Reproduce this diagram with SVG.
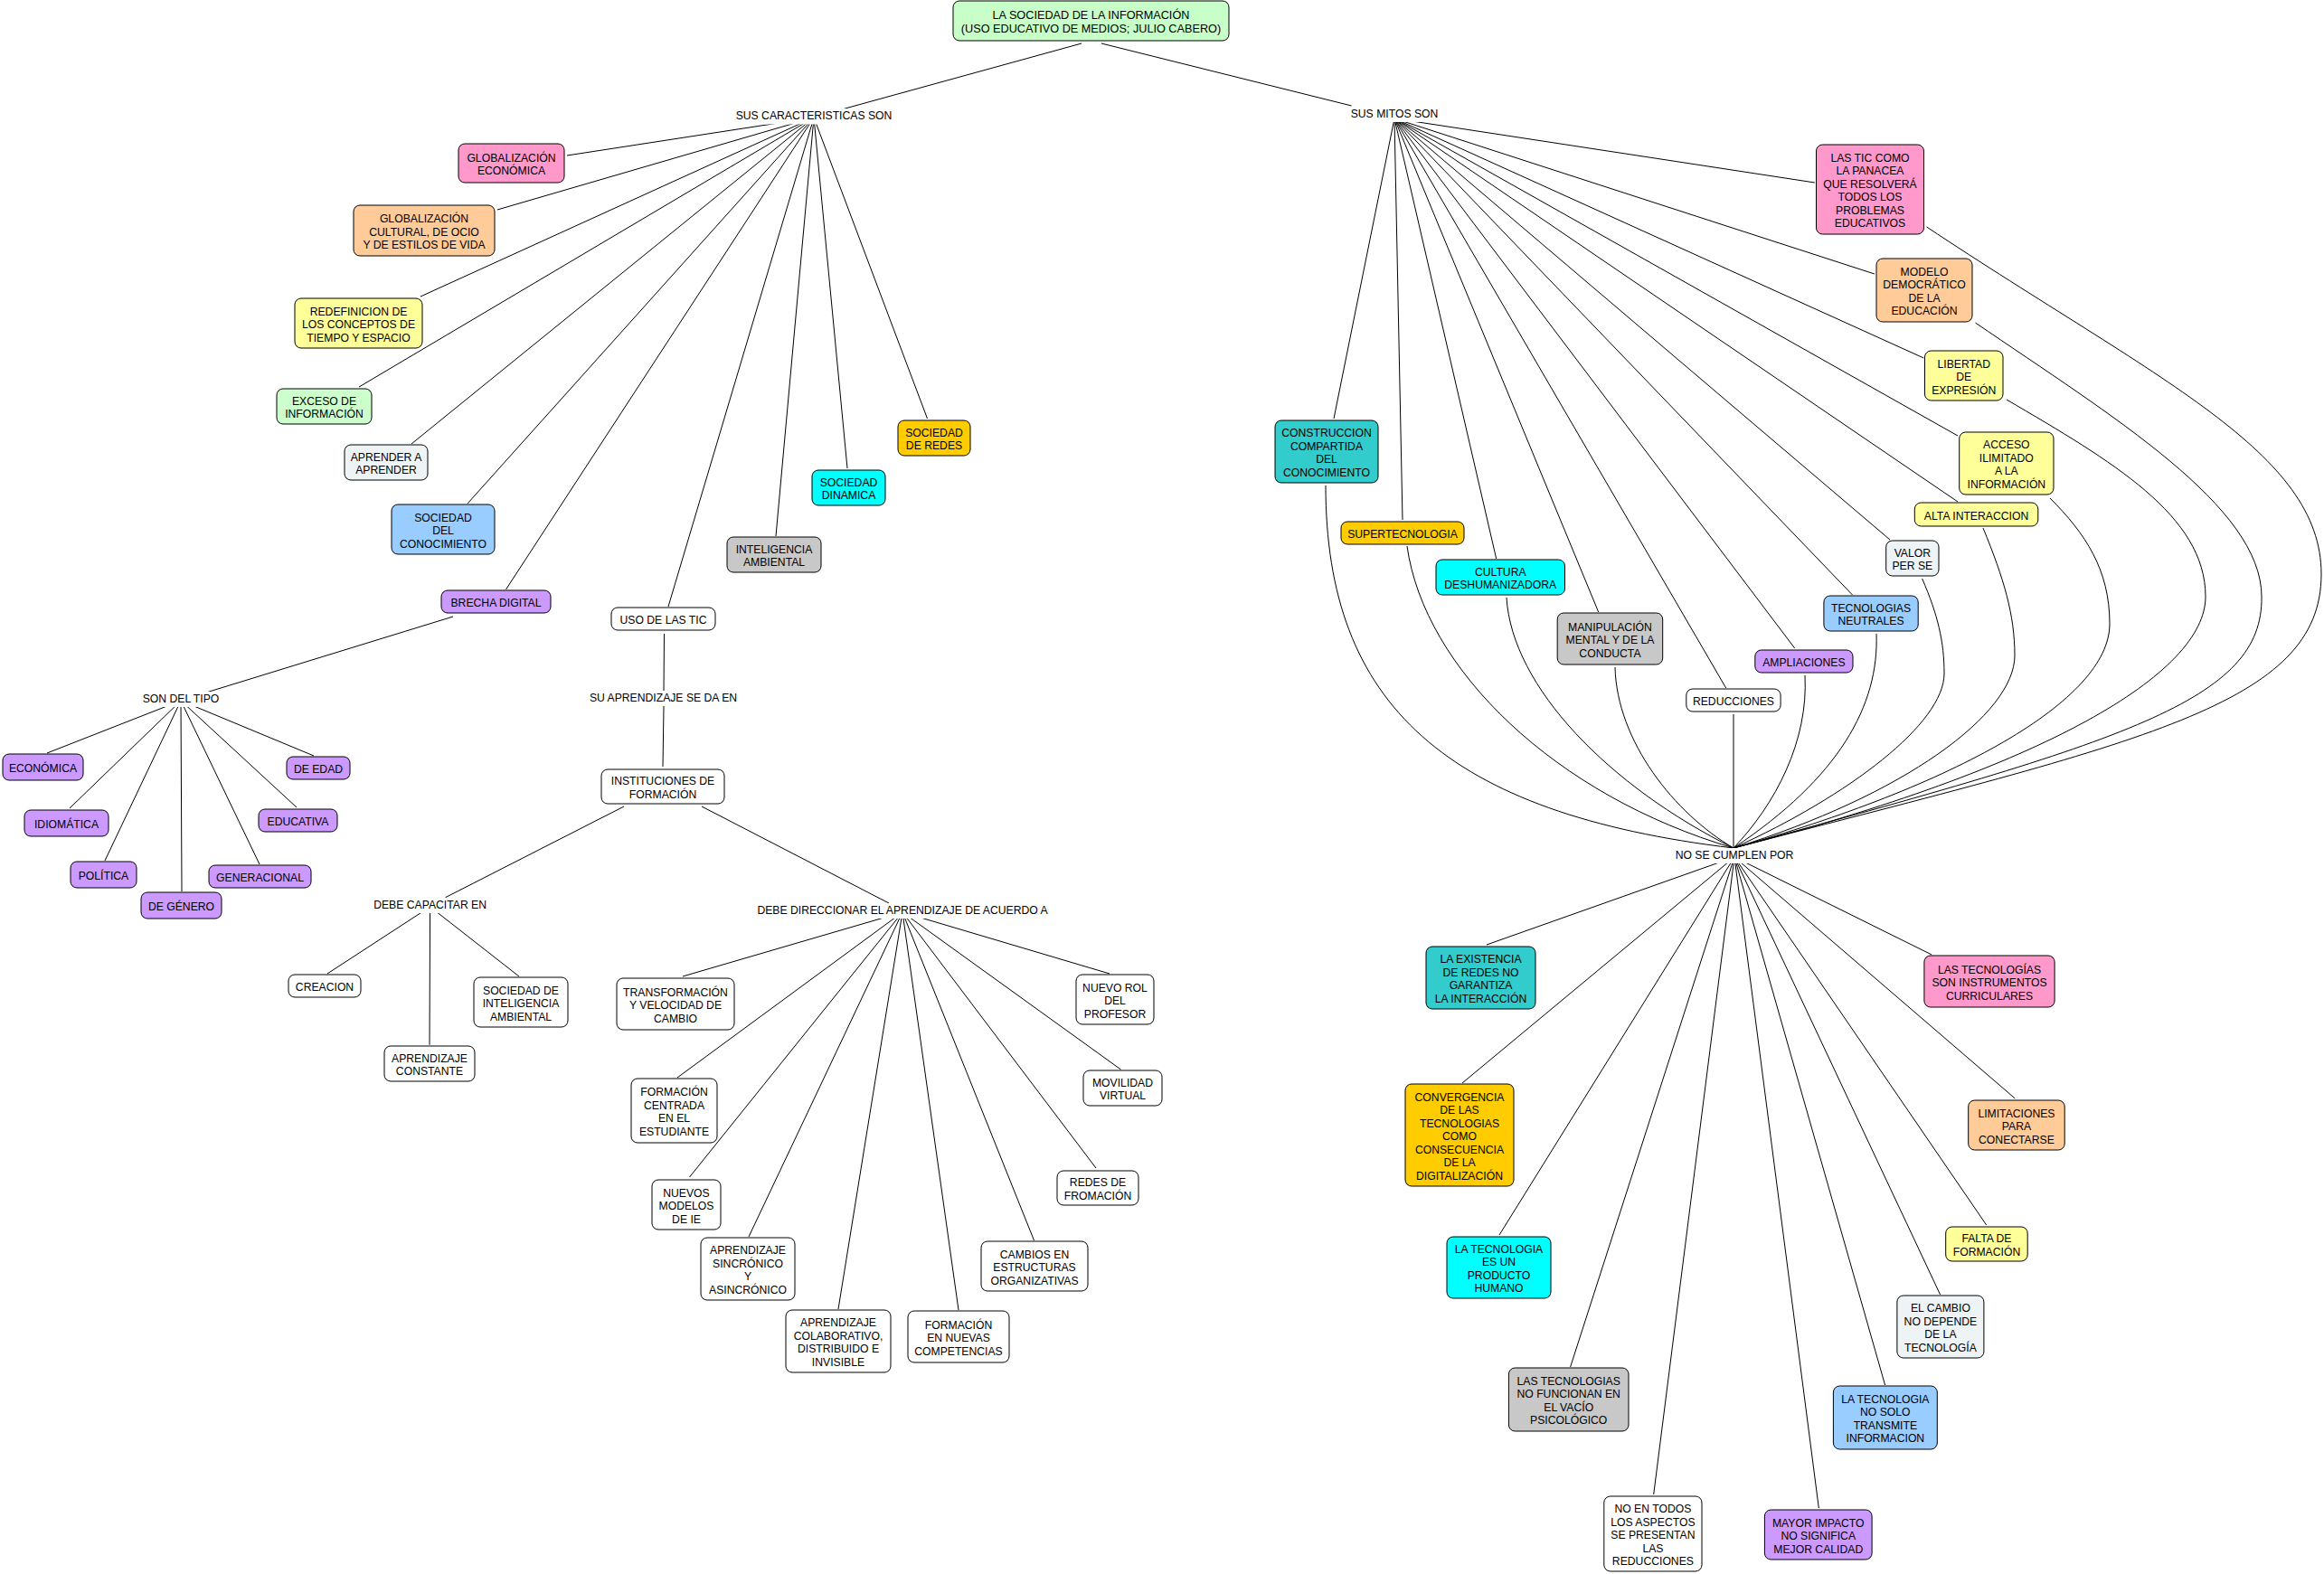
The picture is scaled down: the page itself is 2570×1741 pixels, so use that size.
<svg xmlns="http://www.w3.org/2000/svg" width="2570" height="1741" viewBox="0 0 2570 1741">
<style>
text{font-family:"Liberation Sans",Arial,sans-serif;font-size:12.2px;fill:#000;text-anchor:middle}
.root text{font-size:12.7px}
.n rect{stroke:#000;stroke-width:1}
.c line,.c path{stroke:#000;stroke-width:1;fill:none}
.lbl rect{fill:#fff;stroke:none}
.green{fill:#C8FFC8}.pink{fill:#FF99CC}.peach{fill:#FFCC99}.yellow{fill:#FFFF99}
.lgreen{fill:#CCFFCC}.def{fill:#EEF3F5}.lblue{fill:#99CCFF}.purple{fill:#CC99FF}
.white{fill:#FFFFFF}.gray{fill:#C8C8C8}.cyan{fill:#00FFFF}.gold{fill:#FFCC00}.teal{fill:#33CCCC}
</style>
<rect x="0" y="0" width="2570" height="1741" fill="#fff"/>
<g id="connectors" class="c">
<line x1="1196" y1="48" x2="931" y2="121"/>
<line x1="1218" y1="48" x2="1494.5" y2="117"/>
<line x1="900" y1="130" x2="627" y2="172"/>
<line x1="900" y1="130" x2="550" y2="232"/>
<line x1="900" y1="130" x2="465" y2="328"/>
<line x1="900" y1="130" x2="397" y2="428"/>
<line x1="900" y1="130" x2="455" y2="491"/>
<line x1="900" y1="130" x2="517" y2="557"/>
<line x1="900" y1="130" x2="559.5" y2="652"/>
<line x1="900" y1="130" x2="739" y2="671"/>
<line x1="900" y1="130" x2="858" y2="593"/>
<line x1="900" y1="130" x2="937" y2="518"/>
<line x1="900" y1="130" x2="1025.5" y2="463"/>
<line x1="501" y1="682" x2="228" y2="766"/>
<line x1="200" y1="775" x2="52" y2="833"/>
<line x1="200" y1="775" x2="77" y2="894"/>
<line x1="200" y1="775" x2="116" y2="952"/>
<line x1="200" y1="775" x2="201" y2="986"/>
<line x1="200" y1="775" x2="287" y2="956"/>
<line x1="200" y1="775" x2="328" y2="893"/>
<line x1="200" y1="775" x2="347" y2="836"/>
<line x1="734.5" y1="701" x2="734" y2="764"/>
<line x1="734" y1="781" x2="733" y2="848"/>
<line x1="690" y1="892" x2="492.6" y2="992.7"/>
<line x1="776" y1="892" x2="983" y2="999"/>
<line x1="475.6" y1="1003" x2="362" y2="1077"/>
<line x1="475.6" y1="1003" x2="475" y2="1155.7"/>
<line x1="475.6" y1="1003" x2="574" y2="1080"/>
<line x1="998" y1="1009" x2="755" y2="1080"/>
<line x1="998" y1="1009" x2="749" y2="1192"/>
<line x1="998" y1="1009" x2="762.5" y2="1302"/>
<line x1="998" y1="1009" x2="828" y2="1368"/>
<line x1="998" y1="1009" x2="927" y2="1448"/>
<line x1="998" y1="1009" x2="1060" y2="1449"/>
<line x1="998" y1="1009" x2="1143.5" y2="1372"/>
<line x1="998" y1="1009" x2="1212" y2="1292"/>
<line x1="998" y1="1009" x2="1239.5" y2="1183"/>
<line x1="998" y1="1009" x2="1227" y2="1077"/>
<line x1="1542" y1="131" x2="2006.9" y2="202"/>
<line x1="1542" y1="131" x2="2072.9" y2="303"/>
<line x1="1542" y1="131" x2="2127.3" y2="396"/>
<line x1="1542" y1="131" x2="2165" y2="482"/>
<line x1="1542" y1="131" x2="2165" y2="555"/>
<line x1="1542" y1="131" x2="2090" y2="597"/>
<line x1="1542" y1="131" x2="2048.5" y2="658"/>
<line x1="1542" y1="131" x2="1984.7" y2="717"/>
<line x1="1542" y1="131" x2="1908.7" y2="761"/>
<line x1="1542" y1="131" x2="1767.7" y2="677"/>
<line x1="1542" y1="131" x2="1654.7" y2="618"/>
<line x1="1542" y1="131" x2="1551" y2="575"/>
<line x1="1542" y1="131" x2="1475" y2="463"/>
<path d="M2130.6,251 C2385,420 2567,500 2567,635 C2567,780 2370,820 1917,938"/>
<path d="M2184.5,357 C2335,460 2501,560 2501,660 C2503,775 2350,820 1917,938"/>
<path d="M2219,442 C2335,510 2439,570 2439,660 C2439,745 2260,850 1917,938"/>
<path d="M2267,551 C2306,590 2333,630 2333,690 C2333,775 2160,870 1917,938"/>
<path d="M2193,584 C2216,640 2228,680 2228,725 C2228,790 2105,880 1917,938"/>
<path d="M2125.6,640 C2143,680 2150,710 2150,745 C2150,800 2045,880 1917,938"/>
<path d="M2075,701 C2078,780 2034,860 1917,938"/>
<path d="M1996,747 C2000,820 1963,890 1917,938"/>
<path d="M1917,790 L1917,938"/>
<path d="M1786,738 C1788,820 1852,900 1917,938"/>
<path d="M1666,661 C1672,760 1780,870 1917,938"/>
<path d="M1556,604 C1575,740 1720,880 1917,938"/>
<path d="M1466,537 C1466,780 1600,900 1917,938"/>
<line x1="1918" y1="948" x2="1644" y2="1045"/>
<line x1="1918" y1="948" x2="1617" y2="1198"/>
<line x1="1918" y1="948" x2="1658" y2="1366"/>
<line x1="1918" y1="948" x2="1736.6" y2="1512"/>
<line x1="1918" y1="948" x2="1828.7" y2="1653"/>
<line x1="1918" y1="948" x2="2011.3" y2="1668"/>
<line x1="1918" y1="948" x2="2084.6" y2="1532"/>
<line x1="1918" y1="948" x2="2145.6" y2="1432"/>
<line x1="1918" y1="948" x2="2196.7" y2="1355"/>
<line x1="1918" y1="948" x2="2228.3" y2="1215"/>
<line x1="1918" y1="948" x2="2136.2" y2="1056"/>
</g>
<g id="labels" class="lbl">
<g id="l_car"><rect x="810" y="120" width="180" height="17.5"/><text x="900" y="132.4">SUS CARACTERISTICAS SON</text></g>
<g id="l_mitos"><rect x="1489" y="118" width="106" height="17"/><text x="1542" y="130.4">SUS MITOS SON</text></g>
<g id="l_tipo"><rect x="153" y="765" width="94" height="17"/><text x="200" y="777.4">SON DEL TIPO</text></g>
<g id="l_apr"><rect x="648" y="764" width="171" height="17"/><text x="733.5" y="776.4">SU APRENDIZAJE SE DA EN</text></g>
<g id="l_cap"><rect x="410" y="993" width="131" height="17"/><text x="475.6" y="1005.4">DEBE CAPACITAR EN</text></g>
<g id="l_dir"><rect x="832" y="999" width="332" height="17"/><text x="998" y="1011.4">DEBE DIRECCIONAR EL APRENDIZAJE DE ACUERDO A</text></g>
<g id="l_cumplen"><rect x="1853" y="938" width="131" height="17"/><text x="1918" y="950.4">NO SE CUMPLEN POR</text></g>
</g>
<g id="nodes" class="n">
<g id="root" class="root"><rect class="green" x="1054" y="1" width="305" height="44" rx="7"/><text x="1206.5" y="20.5">LA SOCIEDAD DE LA INFORMACIÓN</text><text x="1206.5" y="36.3">(USO EDUCATIVO DE MEDIOS; JULIO CABERO)</text></g>
<g id="n_glob_econ"><rect class="pink" x="507" y="159" width="117" height="43" rx="7"/><text x="565.5" y="178.75">GLOBALIZACIÓN</text><text x="565.5" y="193.25">ECONÓMICA</text></g>
<g id="n_glob_cult"><rect class="peach" x="391" y="227" width="156" height="56" rx="7"/><text x="469" y="246">GLOBALIZACIÓN</text><text x="469" y="260.5">CULTURAL, DE OCIO</text><text x="469" y="275">Y DE ESTILOS DE VIDA</text></g>
<g id="n_redef"><rect class="yellow" x="326" y="330" width="141" height="55" rx="7"/><text x="396.5" y="348.5">REDEFINICION DE</text><text x="396.5" y="363">LOS CONCEPTOS DE</text><text x="396.5" y="377.5">TIEMPO Y ESPACIO</text></g>
<g id="n_exceso"><rect class="lgreen" x="306" y="430" width="105" height="39" rx="7"/><text x="358.5" y="447.75">EXCESO DE</text><text x="358.5" y="462.25">INFORMACIÓN</text></g>
<g id="n_aprender"><rect class="def" x="381" y="492" width="92" height="39" rx="7"/><text x="427" y="509.75">APRENDER A</text><text x="427" y="524.25">APRENDER</text></g>
<g id="n_soc_con"><rect class="lblue" x="433" y="558" width="114" height="55" rx="7"/><text x="490" y="576.5">SOCIEDAD</text><text x="490" y="591">DEL</text><text x="490" y="605.5">CONOCIMIENTO</text></g>
<g id="n_brecha"><rect class="purple" x="488" y="653" width="121" height="25" rx="7"/><text x="548.5" y="671">BRECHA DIGITAL</text></g>
<g id="n_uso"><rect class="white" x="676" y="672" width="115" height="25" rx="7"/><text x="733.5" y="690">USO DE LAS TIC</text></g>
<g id="n_intel"><rect class="gray" x="804" y="594" width="104" height="39" rx="7"/><text x="856" y="611.75">INTELIGENCIA</text><text x="856" y="626.25">AMBIENTAL</text></g>
<g id="n_soc_din"><rect class="cyan" x="898" y="520" width="81" height="39" rx="7"/><text x="938.5" y="537.75">SOCIEDAD</text><text x="938.5" y="552.25">DINAMICA</text></g>
<g id="n_soc_redes"><rect class="gold" x="993" y="465" width="80" height="39" rx="7"/><text x="1033" y="482.75">SOCIEDAD</text><text x="1033" y="497.25">DE REDES</text></g>
<g id="n_economica"><rect class="purple" x="3" y="834" width="89" height="29" rx="7"/><text x="47.5" y="854">ECONÓMICA</text></g>
<g id="n_idiomatica"><rect class="purple" x="27" y="896" width="93" height="29" rx="7"/><text x="73.5" y="916">IDIOMÁTICA</text></g>
<g id="n_politica"><rect class="purple" x="78" y="953" width="73" height="29" rx="7"/><text x="114.5" y="973">POLÍTICA</text></g>
<g id="n_genero"><rect class="purple" x="156" y="987" width="89" height="29" rx="7"/><text x="200.5" y="1007">DE GÉNERO</text></g>
<g id="n_generacional"><rect class="purple" x="231" y="957" width="113" height="25" rx="7"/><text x="287.5" y="975">GENERACIONAL</text></g>
<g id="n_educativa"><rect class="purple" x="286" y="895" width="87" height="25" rx="7"/><text x="329.5" y="913">EDUCATIVA</text></g>
<g id="n_edad"><rect class="purple" x="317" y="837" width="70" height="25" rx="7"/><text x="352" y="855">DE EDAD</text></g>
<g id="n_inst"><rect class="white" x="665" y="851" width="136" height="38" rx="7"/><text x="733" y="868.25">INSTITUCIONES DE</text><text x="733" y="882.75">FORMACIÓN</text></g>
<g id="n_creacion"><rect class="white" x="319" y="1078" width="80" height="25" rx="7"/><text x="359" y="1096">CREACION</text></g>
<g id="n_apr_const"><rect class="white" x="425" y="1157" width="100" height="39" rx="7"/><text x="475" y="1174.75">APRENDIZAJE</text><text x="475" y="1189.25">CONSTANTE</text></g>
<g id="n_soc_intel"><rect class="white" x="524" y="1081" width="104" height="55" rx="7"/><text x="576" y="1099.5">SOCIEDAD DE</text><text x="576" y="1114">INTELIGENCIA</text><text x="576" y="1128.5">AMBIENTAL</text></g>
<g id="n_transf"><rect class="white" x="682" y="1082" width="130" height="57" rx="7"/><text x="747" y="1101.5">TRANSFORMACIÓN</text><text x="747" y="1116">Y VELOCIDAD DE</text><text x="747" y="1130.5">CAMBIO</text></g>
<g id="n_form_centr"><rect class="white" x="698" y="1193" width="95" height="71" rx="7"/><text x="745.5" y="1212.25">FORMACIÓN</text><text x="745.5" y="1226.75">CENTRADA</text><text x="745.5" y="1241.25">EN EL</text><text x="745.5" y="1255.75">ESTUDIANTE</text></g>
<g id="n_nuevos_mod"><rect class="white" x="721" y="1305" width="76" height="55" rx="7"/><text x="759" y="1323.5">NUEVOS</text><text x="759" y="1338">MODELOS</text><text x="759" y="1352.5">DE IE</text></g>
<g id="n_apr_sinc"><rect class="white" x="775" y="1369" width="104" height="69" rx="7"/><text x="827" y="1387.25">APRENDIZAJE</text><text x="827" y="1401.75">SINCRÓNICO</text><text x="827" y="1416.25">Y</text><text x="827" y="1430.75">ASINCRÓNICO</text></g>
<g id="n_apr_colab"><rect class="white" x="869" y="1449" width="116" height="69" rx="7"/><text x="927" y="1467.25">APRENDIZAJE</text><text x="927" y="1481.75">COLABORATIVO,</text><text x="927" y="1496.25">DISTRIBUIDO E</text><text x="927" y="1510.75">INVISIBLE</text></g>
<g id="n_form_nuevas"><rect class="white" x="1004" y="1450" width="112" height="57" rx="7"/><text x="1060" y="1469.5">FORMACIÓN</text><text x="1060" y="1484">EN NUEVAS</text><text x="1060" y="1498.5">COMPETENCIAS</text></g>
<g id="n_cambios"><rect class="white" x="1085" y="1373" width="118" height="55" rx="7"/><text x="1144" y="1391.5">CAMBIOS EN</text><text x="1144" y="1406">ESTRUCTURAS</text><text x="1144" y="1420.5">ORGANIZATIVAS</text></g>
<g id="n_redes_from"><rect class="white" x="1169" y="1295" width="90" height="38" rx="7"/><text x="1214" y="1312.25">REDES DE</text><text x="1214" y="1326.75">FROMACIÓN</text></g>
<g id="n_movilidad"><rect class="white" x="1198" y="1184" width="87" height="39" rx="7"/><text x="1241.5" y="1201.75">MOVILIDAD</text><text x="1241.5" y="1216.25">VIRTUAL</text></g>
<g id="n_nuevo_rol"><rect class="white" x="1190" y="1078" width="86" height="55" rx="7"/><text x="1233" y="1096.5">NUEVO ROL</text><text x="1233" y="1111">DEL</text><text x="1233" y="1125.5">PROFESOR</text></g>
<g id="n_tic_panacea"><rect class="pink" x="2008.5" y="160" width="119" height="99" rx="7"/><text x="2068" y="178.75">LAS TIC COMO</text><text x="2068" y="193.25">LA PANACEA</text><text x="2068" y="207.75">QUE RESOLVERÁ</text><text x="2068" y="222.25">TODOS LOS</text><text x="2068" y="236.75">PROBLEMAS</text><text x="2068" y="251.25">EDUCATIVOS</text></g>
<g id="n_modelo"><rect class="peach" x="2075" y="286" width="106" height="70" rx="7"/><text x="2128" y="304.75">MODELO</text><text x="2128" y="319.25">DEMOCRÁTICO</text><text x="2128" y="333.75">DE LA</text><text x="2128" y="348.25">EDUCACIÓN</text></g>
<g id="n_libertad"><rect class="yellow" x="2128.5" y="388" width="86.5" height="55" rx="7"/><text x="2171.75" y="406.5">LIBERTAD</text><text x="2171.75" y="421">DE</text><text x="2171.75" y="435.5">EXPRESIÓN</text></g>
<g id="n_acceso"><rect class="yellow" x="2166.7" y="478" width="104.3" height="69" rx="7"/><text x="2218.85" y="496.25">ACCESO</text><text x="2218.85" y="510.75">ILIMITADO</text><text x="2218.85" y="525.25">A LA</text><text x="2218.85" y="539.75">INFORMACIÓN</text></g>
<g id="n_alta"><rect class="yellow" x="2117.3" y="556" width="136.5" height="26" rx="7"/><text x="2185.55" y="574.5">ALTA INTERACCION</text></g>
<g id="n_valor"><rect class="def" x="2085.7" y="598" width="58.3" height="39" rx="7"/><text x="2114.85" y="615.75">VALOR</text><text x="2114.85" y="630.25">PER SE</text></g>
<g id="n_tec_neutr"><rect class="lblue" x="2016.9" y="659" width="104.3" height="39" rx="7"/><text x="2069.05" y="676.75">TECNOLOGIAS</text><text x="2069.05" y="691.25">NEUTRALES</text></g>
<g id="n_ampl"><rect class="purple" x="1940.8" y="719" width="108.2" height="25" rx="7"/><text x="1994.9" y="737">AMPLIACIONES</text></g>
<g id="n_reduc"><rect class="white" x="1864.8" y="762" width="104.3" height="25" rx="7"/><text x="1916.95" y="780">REDUCCIONES</text></g>
<g id="n_manip"><rect class="gray" x="1722.2" y="678" width="116.5" height="57" rx="7"/><text x="1780.45" y="697.5">MANIPULACIÓN</text><text x="1780.45" y="712">MENTAL Y DE LA</text><text x="1780.45" y="726.5">CONDUCTA</text></g>
<g id="n_cultura"><rect class="cyan" x="1588" y="619" width="142.5" height="39" rx="7"/><text x="1659.25" y="636.75">CULTURA</text><text x="1659.25" y="651.25">DESHUMANIZADORA</text></g>
<g id="n_supertec"><rect class="gold" x="1483" y="577" width="136" height="25" rx="7"/><text x="1551" y="595">SUPERTECNOLOGIA</text></g>
<g id="n_construccion"><rect class="teal" x="1410" y="465" width="114" height="69" rx="7"/><text x="1467" y="483.25">CONSTRUCCION</text><text x="1467" y="497.75">COMPARTIDA</text><text x="1467" y="512.25">DEL</text><text x="1467" y="526.75">CONOCIMIENTO</text></g>
<g id="n_existencia"><rect class="teal" x="1577" y="1047" width="121" height="69" rx="7"/><text x="1637.5" y="1065.25">LA EXISTENCIA</text><text x="1637.5" y="1079.75">DE REDES NO</text><text x="1637.5" y="1094.25">GARANTIZA</text><text x="1637.5" y="1108.75">LA INTERACCIÓN</text></g>
<g id="n_convergencia"><rect class="gold" x="1554" y="1199" width="120" height="113" rx="7"/><text x="1614" y="1217.5">CONVERGENCIA</text><text x="1614" y="1232">DE LAS</text><text x="1614" y="1246.5">TECNOLOGIAS</text><text x="1614" y="1261">COMO</text><text x="1614" y="1275.5">CONSECUENCIA</text><text x="1614" y="1290">DE LA</text><text x="1614" y="1304.5">DIGITALIZACIÓN</text></g>
<g id="n_producto"><rect class="cyan" x="1600" y="1368" width="115" height="68" rx="7"/><text x="1657.5" y="1385.75">LA TECNOLOGIA</text><text x="1657.5" y="1400.25">ES UN</text><text x="1657.5" y="1414.75">PRODUCTO</text><text x="1657.5" y="1429.25">HUMANO</text></g>
<g id="n_vacio"><rect class="gray" x="1668.4" y="1513" width="132.6" height="70" rx="7"/><text x="1734.7" y="1531.75">LAS TECNOLOGIAS</text><text x="1734.7" y="1546.25">NO FUNCIONAN EN</text><text x="1734.7" y="1560.75">EL VACÍO</text><text x="1734.7" y="1575.25">PSICOLÓGICO</text></g>
<g id="n_no_todos"><rect class="white" x="1773.8" y="1655" width="108.2" height="83" rx="7"/><text x="1827.9" y="1673">NO EN TODOS</text><text x="1827.9" y="1687.5">LOS ASPECTOS</text><text x="1827.9" y="1702">SE PRESENTAN</text><text x="1827.9" y="1716.5">LAS</text><text x="1827.9" y="1731">REDUCCIONES</text></g>
<g id="n_mayor"><rect class="purple" x="1951.4" y="1670" width="118.7" height="55" rx="7"/><text x="2010.75" y="1688.5">MAYOR IMPACTO</text><text x="2010.75" y="1703">NO SIGNIFICA</text><text x="2010.75" y="1717.5">MEJOR CALIDAD</text></g>
<g id="n_no_solo"><rect class="lblue" x="2027.4" y="1533" width="114.9" height="70" rx="7"/><text x="2084.85" y="1551.75">LA TECNOLOGIA</text><text x="2084.85" y="1566.25">NO SOLO</text><text x="2084.85" y="1580.75">TRANSMITE</text><text x="2084.85" y="1595.25">INFORMACION</text></g>
<g id="n_cambio"><rect class="def" x="2097.9" y="1433" width="96" height="69" rx="7"/><text x="2145.9" y="1451.25">EL CAMBIO</text><text x="2145.9" y="1465.75">NO DEPENDE</text><text x="2145.9" y="1480.25">DE LA</text><text x="2145.9" y="1494.75">TECNOLOGÍA</text></g>
<g id="n_falta"><rect class="yellow" x="2151.7" y="1357" width="90.5" height="38" rx="7"/><text x="2196.95" y="1374.25">FALTA DE</text><text x="2196.95" y="1388.75">FORMACIÓN</text></g>
<g id="n_limit"><rect class="peach" x="2176.7" y="1217" width="106.5" height="55" rx="7"/><text x="2229.95" y="1235.5">LIMITACIONES</text><text x="2229.95" y="1250">PARA</text><text x="2229.95" y="1264.5">CONECTARSE</text></g>
<g id="n_instr"><rect class="pink" x="2127.9" y="1057" width="144.2" height="57" rx="7"/><text x="2200" y="1076.5">LAS TECNOLOGÍAS</text><text x="2200" y="1091">SON INSTRUMENTOS</text><text x="2200" y="1105.5">CURRICULARES</text></g>
</g>
</svg>
